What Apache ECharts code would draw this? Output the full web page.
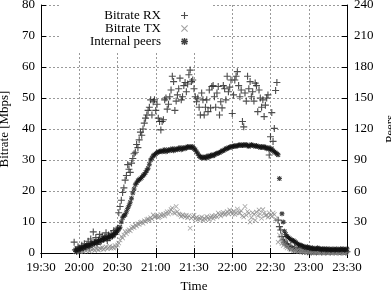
<!DOCTYPE html>
<html>
<head>
<meta charset="utf-8">
<script src="https://cdn.jsdelivr.net/npm/echarts@6/dist/echarts.min.js"></script>
<style>
html, body { margin: 0; padding: 0; background: #fff; }
#chart { width: 391px; height: 291px; }
</style>
</head>
<body>
<div id="chart"></div>
<script>
// samples are one minute apart, first one at 19:56 (minutes since midnight)
var startMinute = 19 * 60 + 56;

var seriesNames = ["Bitrate RX", "Bitrate TX", "Internal peers"];

// Bitrate RX [Mbps]
var rxMbps = [
    3.5, 1.0, 0.5, 2.0, 1.5, 0.8, 2.5, 1.2, 3.0, 2.0,
    2.5, 3.8, 1.8, 4.5, 3.0, 6.8, 3.5, 5.0, 2.8, 4.2,
    6.0, 3.8, 5.5, 4.5, 5.2, 6.5, 4.0, 5.8, 5.0, 6.2,
    5.5, 7.2, 6.0, 7.5, 8.0, 13.0, 15.0, 17.0, 19.5, 21.0,
    23.5, 25.0, 28.5, 27.0, 26.0, 29.0, 30.5, 32.0, 32.5, 35.0,
    34.0, 36.5, 39.0, 38.0, 40.0, 41.9, 43.5, 44.5, 46.0, 47.0,
    49.4, 44.5, 48.8, 49.4, 46.0, 48.0, 43.5, 42.4, 39.7, 42.4,
    43.0, 49.4, 50.0, 46.4, 48.0, 50.4, 52.6, 57.0, 55.3, 46.0,
    49.0, 51.0, 53.0, 56.4, 49.4, 50.4, 54.0, 55.0, 52.0, 54.5,
    57.5, 59.0, 55.3, 55.8, 53.0, 50.4, 48.8, 50.0, 47.0, 44.5,
    51.6, 49.4, 44.5, 47.0, 49.4, 45.6, 52.6, 46.8, 53.7, 54.0,
    50.4, 47.0, 51.6, 53.7, 44.5, 48.8, 46.8, 54.0, 53.0, 49.4,
    57.0, 52.0, 53.5, 55.8, 45.0, 51.0, 55.8, 57.0, 58.5, 54.0,
    50.4, 52.6, 42.4, 40.7, 51.6, 49.0, 57.0, 53.0, 55.3, 50.4,
    52.0, 49.0, 54.8, 54.0, 45.6, 52.6, 50.0, 47.0, 49.4, 44.0,
    47.7, 50.0, 51.0, 31.6, 37.5, 45.3, 36.0, 40.2, 52.4, 55.0,
    10.6, 8.5, 7.4, 5.3, 4.2, 3.5, 2.8, 3.0, 2.2, 1.8,
    2.0, 1.5, 1.2, 1.6, 1.0, 0.8, 1.2, 0.7, 0.9, 0.6,
    0.8, 0.5, 0.7, 0.4, 0.6, 0.5, 0.3, 0.6, 0.4, 0.5,
    0.3, 0.5, 0.4, 0.6, 0.3, 0.4, 0.5, 0.3, 0.4, 0.5,
    0.4, 0.3, 0.5, 0.4, 0.3, 0.6, 0.4, 0.3, 0.5, 0.4,
    0.3, 0.4, 0.5, 0.3, 0.4
];

// Bitrate TX [Mbps]
var txMbps = [
    null, 0.5, 0.3, 1.0, 0.6, 0.4, 0.8, 0.5, 1.2, 0.7,
    0.9, 1.3, 0.6, 1.5, 1.0, 1.4, 0.8, 1.6, 1.2, 1.0,
    1.5, 1.3, 1.8, 1.1, 1.6, 2.0, 1.4, 1.7, 2.2, 1.5,
    1.9, 1.6, 2.4, 1.8, 2.6, 3.2, 4.2, 5.3, 4.8, 5.8,
    6.9, 6.2, 7.0, 7.5, 7.2, 8.0, 8.5, 8.2, 9.0, 8.7,
    9.4, 9.2, 9.8, 10.0, 9.6, 10.4, 10.2, 10.8, 11.0, 10.6,
    11.4, 11.0, 12.3, 11.6, 11.8, 12.0, 11.4, 11.7, 12.4, 12.0,
    12.5, 11.9, 12.8, 13.3, 12.6, 13.3, 14.0, 14.5, 13.0, 12.8,
    15.0, 13.4, 12.6, 12.3, 11.8, 12.3, 12.0, 11.6, 12.2, 11.4,
    12.0, 8.0, 11.2, 11.7, 12.2, 11.0, 11.5, 10.8, 11.3, 11.0,
    11.6, 10.6, 11.2, 10.9, 11.8, 11.3, 10.7, 11.5, 12.0, 11.1,
    11.8, 12.2, 11.6, 12.9, 12.4, 11.9, 12.6, 13.1, 12.3, 12.8,
    13.4, 12.7, 13.9, 13.2, 12.6, 13.5, 12.4, 13.0, 14.2, 12.9,
    12.9, 13.6, 12.0, 11.6, 15.0, 12.2, 13.4, 12.8, 10.0, 11.4,
    13.0, 12.5, 10.6, 13.2, 12.0, 13.9, 12.6, 11.2, 14.0, 12.8,
    12.0, 12.3, 11.5, 13.0, 12.2, 11.8, 12.9, 12.4, 11.0, 10.5,
    3.5, 5.8, 4.5, 3.1, 2.4, 3.0, 2.0, 1.6, 2.2, 1.4,
    1.0, 1.2, 0.8, 1.0, 0.6, 0.9, 0.5, 0.7, 0.5, 0.6,
    0.4, 0.5, 0.3, 0.4, 0.5, 0.3, 0.4, 0.3, 0.5, 0.3,
    0.3, 0.4, 0.2, 0.3, 0.4, 0.3, 0.2, 0.3, 0.4, 0.3,
    0.2, 0.3, 0.3, 0.2, 0.4, 0.3, 0.2, 0.3, 0.2, 0.3,
    0.3, 0.2, 0.3, 0.2, 0.3
];

// Internal peers (count, right axis)
var peerCount = [
    null, 3, 2, 4, 3, 5, 4, 6, 5, 7,
    6, 8, 7, 9, 8, 10, 9, 11, 10, 12,
    11, 13, 12, 14, 13, 15, 14, 16, 15, 17,
    16, 18, 19, 20, 21, 23, 25, 30, 34, 36,
    37, 40, 43, 46, 49, 53, 58, 62, 66, 68,
    70, 71, 72, 73, 75, 76, 78, 80, 82, 86,
    90, 92, 94, 95, 96, 97, 98, 98, 99, 98,
    99, 100, 98, 99, 100, 99, 100, 101, 99, 100,
    101, 100, 101, 102, 100, 101, 102, 101, 102, 103,
    102, 103, 102, 103, 101, 100, 98, 96, 94, 93,
    92, 93, 92, 93, 92, 94, 93, 94, 95, 94,
    95, 96, 96, 97, 97, 98, 99, 99, 100, 101,
    101, 102, 102, 103, 103, 103, 104, 103, 104, 104,
    105, 104, 104, 105, 104, 105, 104, 103, 104, 105,
    104, 104, 103, 104, 103, 103, 102, 103, 102, 103,
    102, 101, 102, 101, 100, 101, 99, 98, 97, 96,
    95, 72, null, 38, 30, 21, 18, 16, 15, 14,
    13, 12, 12, 11, 10, 9, 8, 8, 7, 7,
    6, 6, 5, 6, 5, 5, 4, 5, 4, 4,
    4, 5, 4, 4, 3, 4, 4, 3, 4, 3,
    4, 3, 3, 4, 3, 3, 4, 3, 3, 4,
    3, 4, 3, 3, 4
];

var plusIcon = "path://M0,4.2H10V5.8H0Z M4.2,0H5.8V10H4.2Z";
var crossIcon = "path://M0,1.1L1.1,0L10,8.9L8.9,10Z M8.9,0L10,1.1L1.1,10L0,8.9Z";
var starIcon = "path://M0,4H10V6H0Z M4,0H6V10H4Z M0.4,1.8L1.8,0.4L9.6,8.2L8.2,9.6Z M8.2,0.4L9.6,1.8L1.8,9.6L0.4,8.2Z";

var font = "Liberation Serif";

// pair each value with its minute of the day, skipping gaps
function toPoints(values) {
    var out = [];
    values.forEach(function (v, i) {
        if (v != null) out.push([startMinute + i, v]);
    });
    return out;
}

function clock(m) {
    var h = Math.floor(m / 60), mm = m % 60;
    return h + ":" + (mm < 10 ? "0" : "") + mm;
}

var gridLine = { show: true, lineStyle: { color: "#9a9a9a", type: [2, 2], width: 1 } };
var axisLine = { show: true, lineStyle: { color: "#000", width: 1 } };
var inTick = { show: true, inside: true, length: 5, lineStyle: { color: "#000" } };

var chart = echarts.init(document.getElementById("chart"));
chart.setOption({
    animation: false,
    backgroundColor: "#fff",
    textStyle: { fontFamily: font, color: "#000" },
    grid: { left: 41, right: 44, top: 5, bottom: 38, outerBoundsMode: "none", containLabel: false },
    legend: {
        orient: "vertical",
        align: "right",
        right: 180,
        top: 5,
        padding: [4, 23, 3, 30],
        backgroundColor: "#fff",
        itemWidth: 7,
        itemHeight: 7,
        itemGap: 0,
        textStyle: { fontFamily: font, fontSize: 13, color: "#000", lineHeight: 13, padding: [0, 15, 0, 0] },
        data: [
            { name: seriesNames[0], icon: plusIcon },
            { name: seriesNames[1], icon: crossIcon },
            { name: seriesNames[2], icon: starIcon }
        ]
    },
    xAxis: [{
        type: "value",
        min: 1170,
        max: 1410,
        interval: 30,
        name: "Time",
        nameLocation: "middle",
        nameGap: 27,
        nameTextStyle: { fontFamily: font, fontSize: 13, color: "#000" },
        axisLine: axisLine,
        axisTick: inTick,
        splitLine: gridLine,
        axisLabel: { fontFamily: font, fontSize: 13, color: "#000", margin: 8, formatter: clock }
    }, {
        type: "value",
        position: "top",
        min: 1170,
        max: 1410,
        interval: 30,
        axisLine: axisLine,
        axisTick: inTick,
        splitLine: { show: false },
        axisLabel: { show: false }
    }],
    yAxis: [{
        type: "value",
        min: 0,
        max: 80,
        interval: 10,
        name: "Bitrate [Mbps]",
        nameLocation: "middle",
        nameRotate: 90,
        nameGap: 27,
        nameTextStyle: { fontFamily: font, fontSize: 13, color: "#000" },
        axisLine: axisLine,
        axisTick: inTick,
        splitLine: gridLine,
        axisLabel: { fontFamily: font, fontSize: 13, color: "#000", margin: 6 }
    }, {
        type: "value",
        min: 0,
        max: 240,
        interval: 30,
        position: "right",
        name: "Peers",
        nameLocation: "middle",
        nameRotate: 90,
        nameGap: 33,
        nameTextStyle: { fontFamily: font, fontSize: 13, color: "#000" },
        axisLine: axisLine,
        axisTick: inTick,
        splitLine: { show: false },
        axisLabel: { fontFamily: font, fontSize: 13, color: "#000", margin: 7 }
    }],
    series: [{
        name: seriesNames[0],
        type: "scatter",
        symbol: plusIcon,
        symbolSize: 7,
        itemStyle: { color: "#222" },
        data: toPoints(rxMbps)
    }, {
        name: seriesNames[1],
        type: "scatter",
        symbol: crossIcon,
        symbolSize: 5,
        itemStyle: { color: "#8a8a8a" },
        data: toPoints(txMbps)
    }, {
        name: seriesNames[2],
        type: "scatter",
        yAxisIndex: 1,
        symbol: starIcon,
        symbolSize: 5,
        itemStyle: { color: "#111" },
        data: toPoints(peerCount)
    }]
});
</script>
</body>
</html>
